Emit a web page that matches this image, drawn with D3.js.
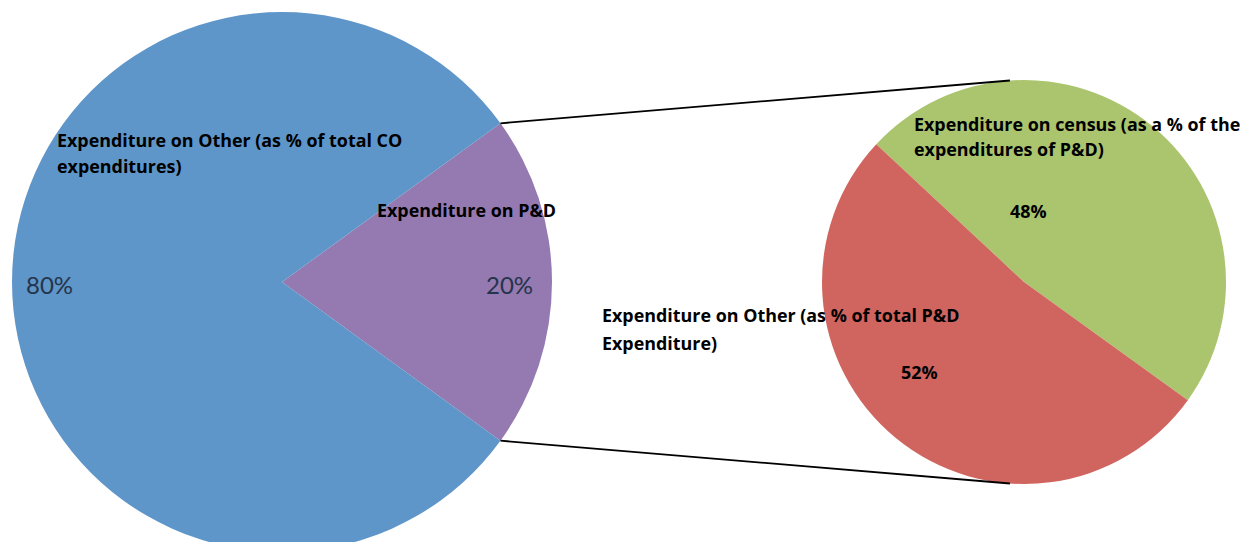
<!DOCTYPE html>
<html>
<head>
<meta charset="utf-8">
<script src="https://cdn.jsdelivr.net/npm/d3@7"></script>
<style>
  body { margin: 0; background: #fff; }
  svg { display: block; }
  .lbl { font-family: "Open Sans", Lato, sans-serif; font-weight: bold; font-size: 17.9px; fill: #000; }
  .pct-main { font-family: Lato, sans-serif; font-size: 24px; fill: #24344a; }
</style>
</head>
<body>
<svg id="chart" width="1240" height="542"></svg>
<script>
// main pie: total CO expenditure split
const mainCategories = ['Expenditure on P&D', 'Expenditure on Other (as % of total CO expenditures)'];
const mainValues = [20, 80];
const mainColors = ['#9579b1', '#5f96c9'];

// secondary pie: breakdown of P&D
const subCategories = ['Expenditure on census (as a % of the expenditures of P&D)', 'Expenditure on Other (as % of total P&D Expenditure)'];
const subValues = [48, 52];
const subColors = ['#abc46e', '#d0655f'];

const width = 1240, height = 542;
const svg = d3.select('#chart');

const main = { cx: 282, cy: 282, r: 270 };
const sub = { cx: 1024, cy: 282, r: 202 };

const rad = deg => deg * Math.PI / 180;

// P&D slice centred on the right-hand side (90deg)
const mainSpan = 360 * mainValues[0] / d3.sum(mainValues);
const mainPie = d3.pie().sort(null).startAngle(rad(90 - mainSpan / 2)).endAngle(rad(90 - mainSpan / 2 + 360));
const subPie = d3.pie().sort(null).startAngle(rad(-47)).endAngle(rad(313));

const mainArcs = mainPie(mainValues);
const subArcs = subPie(subValues);

const mainArc = d3.arc().innerRadius(0).outerRadius(main.r);
const subArc = d3.arc().innerRadius(0).outerRadius(sub.r);

const gMain = svg.append('g').attr('transform', `translate(${main.cx},${main.cy})`);
gMain.selectAll('path')
    .data(mainArcs)
    .join('path')
    .attr('d', mainArc)
    .attr('fill', (d, i) => mainColors[i]);

const gSub = svg.append('g').attr('transform', `translate(${sub.cx},${sub.cy})`);
gSub.selectAll('path')
    .data(subArcs)
    .join('path')
    .attr('d', subArc)
    .attr('fill', (d, i) => subColors[i]);

// connector lines from the P&D slice edges to top / bottom of the second pie
const onCircle = (c, a) => [c.cx + c.r * Math.sin(a), c.cy - c.r * Math.cos(a)];
const pd = mainArcs[0];
const connectors = [
    [onCircle(main, pd.startAngle), onCircle(sub, rad(-4))],
    [onCircle(main, pd.endAngle), onCircle(sub, rad(184))]
];
svg.append('g').selectAll('line')
    .data(connectors)
    .join('line')
    .attr('x1', d => d[0][0]).attr('y1', d => d[0][1])
    .attr('x2', d => d[1][0]).attr('y2', d => d[1][1])
    .attr('stroke', '#000')
    .attr('stroke-width', 1.8);

// category labels (wrapped as in the original)
const labels = [
    { lines: ['Expenditure on Other (as % of total CO', 'expenditures)'], x: 57, y: 147, dy: 26 },
    { lines: ['Expenditure on P&D'], x: 377, y: 217, dy: 26 },
    { lines: ['Expenditure on census (as a % of the', 'expenditures of P&D)'], x: 914, y: 131, dy: 25 },
    { lines: ['Expenditure on Other (as % of total P&D', 'Expenditure)'], x: 602, y: 322, dy: 28 }
];
labels.forEach(l => {
    const t = svg.append('text').attr('class', 'lbl').attr('x', l.x).attr('y', l.y);
    l.lines.forEach((s, i) => {
        t.append('tspan').attr('x', l.x).attr('dy', i === 0 ? 0 : l.dy).text(s);
    });
});

// percentage labels
const fmt = v => `${v}%`;
svg.append('text').attr('class', 'pct-main').attr('x', 26).attr('y', 294).text(fmt(mainValues[1]));
svg.append('text').attr('class', 'pct-main').attr('x', 486).attr('y', 294).text(fmt(mainValues[0]));
svg.append('text').attr('class', 'lbl').attr('x', 1010).attr('y', 218).text(fmt(subValues[0]));
svg.append('text').attr('class', 'lbl').attr('x', 901).attr('y', 379).text(fmt(subValues[1]));
</script>
</body>
</html>
